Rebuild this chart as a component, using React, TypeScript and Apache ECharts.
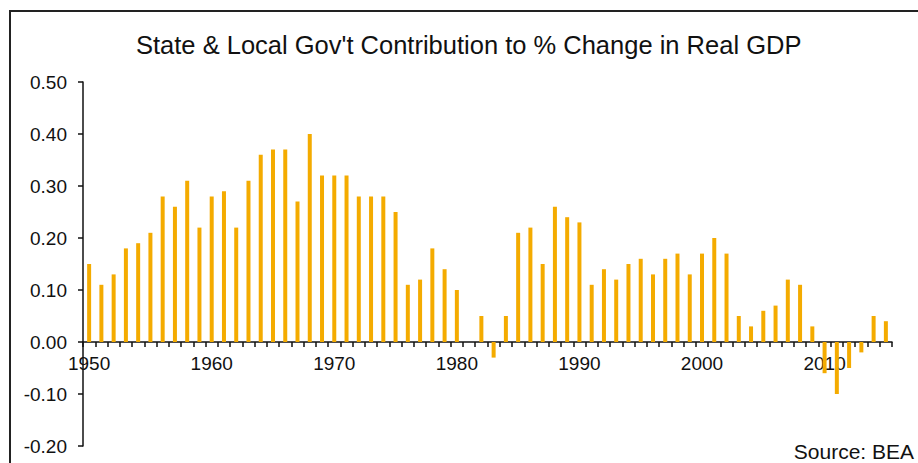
import React, { useEffect, useRef } from "react";
import * as echarts from "echarts";

const years: string[] = [
  "1950","1951","1952","1953","1954","1955","1956","1957","1958","1959",
  "1960","1961","1962","1963","1964","1965","1966","1967","1968","1969",
  "1970","1971","1972","1973","1974","1975","1976","1977","1978","1979",
  "1980","1981","1982","1983","1984","1985","1986","1987","1988","1989",
  "1990","1991","1992","1993","1994","1995","1996","1997","1998","1999",
  "2000","2001","2002","2003","2004","2005","2006","2007","2008","2009",
  "2010","2011","2012","2013","2014","2015",
];

const contribution: number[] = [
  0.15, 0.11, 0.13, 0.18, 0.19, 0.21, 0.28, 0.26, 0.31, 0.22,
  0.28, 0.29, 0.22, 0.31, 0.36, 0.37, 0.37, 0.27, 0.40, 0.32,
  0.32, 0.32, 0.28, 0.28, 0.28, 0.25, 0.11, 0.12, 0.18, 0.14,
  0.10, 0.00, 0.05, -0.03, 0.05, 0.21, 0.22, 0.15, 0.26, 0.24,
  0.23, 0.11, 0.14, 0.12, 0.15, 0.16, 0.13, 0.16, 0.17, 0.13,
  0.17, 0.20, 0.17, 0.05, 0.03, 0.06, 0.07, 0.12, 0.11, 0.03,
  -0.06, -0.10, -0.05, -0.02, 0.05, 0.04,
];

const titleText = "State & Local Gov't Contribution to % Change in Real GDP";
const sourceText = "Source: BEA";

const FONT = "'Liberation Sans', Arial, Helvetica, sans-serif";

const Y_MIN = -0.2;
const Y_MAX = 0.5;
const GRID_TOP = 82;
const GRID_BOTTOM = 17;
const CHART_H = 463;

export default function App() {
  const ref = useRef<HTMLDivElement>(null);
  useEffect(() => {
    if (!ref.current) return;
    const chart = echarts.init(ref.current, undefined, { renderer: "svg" });
    const gridH = CHART_H - GRID_TOP - GRID_BOTTOM;
    // distance from grid bottom up to the zero line
    const zeroOffset = (gridH * (0 - Y_MIN)) / (Y_MAX - Y_MIN);
    chart.setOption({
      animation: false,
      backgroundColor: "#ffffff",
      title: {
        text: titleText,
        left: 131,
        top: 27,
        textStyle: { fontFamily: FONT, fontSize: 25.5, fontWeight: "normal", color: "#111" },
      },
      graphic: [
        {
          type: "rect",
          shape: { x: 10, y: 11, width: 1000, height: 1000 },
          style: { fill: "none", stroke: "#222", lineWidth: 2 },
          silent: true,
        },
        {
          type: "text",
          right: 4,
          bottom: 1,
          style: { text: sourceText, fontFamily: FONT, fontSize: 21, fill: "#111" },
        },
      ],
      grid: {
        left: 83,
        right: 26,
        top: GRID_TOP,
        bottom: GRID_BOTTOM,
        containLabel: false,
        outerBoundsMode: "none",
      },
      xAxis: {
        type: "category",
        data: years,
        boundaryGap: true,
        offset: -zeroOffset,
        axisLine: { show: true, onZero: false, lineStyle: { color: "#111", width: 1.5 } },
        axisTick: { show: true, interval: 0, length: 5, lineStyle: { color: "#111", width: 1.5 } },
        axisLabel: {
          interval: 9,
          margin: 12,
          fontFamily: FONT,
          fontSize: 19,
          color: "#111",
        },
        splitLine: { show: false },
      },
      yAxis: {
        type: "value",
        min: Y_MIN,
        max: Y_MAX,
        interval: 0.1,
        axisLine: { show: true, lineStyle: { color: "#111", width: 1.5 } },
        axisTick: { show: true, length: 5, lineStyle: { color: "#111", width: 1.5 } },
        axisLabel: {
          margin: 16,
          fontFamily: FONT,
          fontSize: 19,
          color: "#111",
          formatter: (v: number) => v.toFixed(2),
        },
        splitLine: { show: false },
      },
      series: [
        {
          type: "bar",
          data: contribution,
          barWidth: 4,
          itemStyle: { color: "#F4AB00" },
        },
      ],
    });
    return () => chart.dispose();
  }, []);
  return (
    <div
      ref={ref}
      style={{ position: "absolute", left: 0, top: 0, width: 918, height: 463 }}
    />
  );
}
